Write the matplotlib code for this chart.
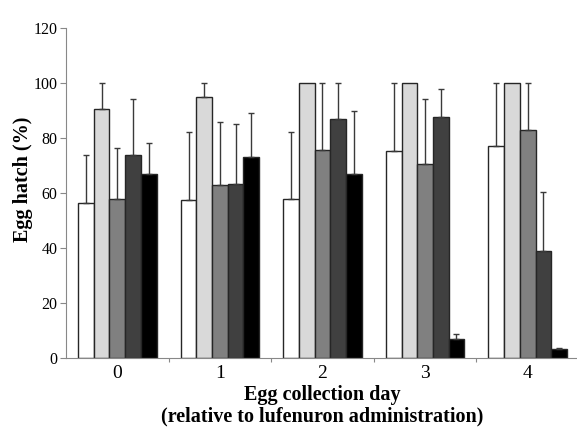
import matplotlib
matplotlib.use("Agg")
import matplotlib.pyplot as plt
import numpy as np

days = ["0", "1", "2", "3", "4"]

# mean egg hatch (%) per treatment group, one list per series
series_1 = [56.4, 57.5, 57.7, 75.3, 77.2]
series_2 = [90.7, 95.0, 100.0, 100.0, 100.0]
series_3 = [57.8, 62.8, 75.6, 70.7, 83.1]
series_4 = [73.8, 63.5, 86.9, 87.6, 39.1]
series_5 = [66.9, 73.0, 66.9, 6.9, 3.3]

# upper error (SD), NaN where no bar is drawn
err_1 = [17.3, 24.7, 24.6, 24.7, 22.8]
err_2 = [9.4, 5.0, np.nan, np.nan, np.nan]
err_3 = [18.7, 23.0, 24.4, 23.5, 16.9]
err_4 = [20.4, 21.5, 13.1, 10.3, 21.3]
err_5 = [11.3, 16.1, 22.8, 1.8, 0.6]

means = [series_1, series_2, series_3, series_4, series_5]
errors = [err_1, err_2, err_3, err_4, err_5]
colors = ["#ffffff", "#d9d9d9", "#808080", "#404040", "#000000"]

plt.rcParams["font.family"] = ["Liberation Serif", "DejaVu Serif"]

fig = plt.figure(figsize=(5.77, 4.41), dpi=100)
ax = fig.add_axes([0.1144, 0.1875, 0.889, 0.749])

x = np.arange(len(days))
width = 0.153
for i, (m, e, c) in enumerate(zip(means, errors, colors)):
    pos = x + (i - 2) * width
    ax.bar(pos, m, width, color=c, edgecolor="#262626", linewidth=1.0, zorder=2)
    e = np.array(e)
    ok = ~np.isnan(e)
    ax.errorbar(pos[ok], np.array(m)[ok], yerr=[np.zeros(ok.sum()), e[ok]],
                fmt="none", ecolor="#3a3a3a", elinewidth=1.0, capsize=2,
                capthick=1.0, zorder=3)

ax.set_xlim(-0.5, 4.5)
ax.set_ylim(0, 120)
ax.set_yticks(range(0, 121, 20))
ax.set_xticks(x)
ax.set_xticklabels(days, fontsize=14)
ax.set_xticks(np.arange(0.5, 4.5, 1), minor=True)
ax.tick_params(axis="x", which="major", length=0, pad=5)
ax.tick_params(axis="x", which="minor", length=3, color="#888888", width=0.8)
ax.tick_params(axis="y", labelsize=11.5, length=4, color="#888888", width=0.8, pad=2)

for side in ["top", "right"]:
    ax.spines[side].set_visible(False)
for side in ["left", "bottom"]:
    ax.spines[side].set_color("#888888")
    ax.spines[side].set_linewidth(0.8)

ax.set_xlabel("Egg collection day\n(relative to lufenuron administration)",
              fontsize=14.5, fontweight="bold", labelpad=2, linespacing=1.1)
ax.set_ylabel("Egg hatch (%)", fontsize=14.5, fontweight="bold")
ax.yaxis.set_label_coords(-0.064, 0.543)

fig.savefig("out.png", dpi=100)
